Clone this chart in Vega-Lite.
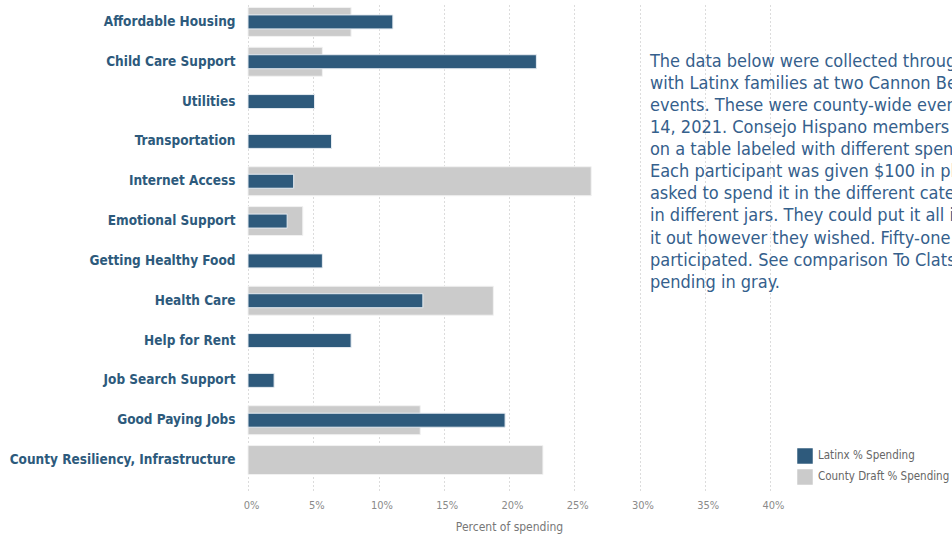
{
  "$schema": "https://vega.github.io/schema/vega-lite/v6.json",
  "autosize": {"type": "none"},
  "width": 522,
  "height": 488,
  "padding": {"left": 248, "top": 2, "right": 182, "bottom": 46},
  "background": "white",
  "config": {
    "view": {"stroke": null},
    "font": "DejaVu Sans Condensed"
  },
  "datasets": {
    "spend": [
      {"category": "Affordable Housing", "series": "County Draft % Spending", "value": 7.9},
      {"category": "Child Care Support", "series": "County Draft % Spending", "value": 5.7},
      {"category": "Internet Access", "series": "County Draft % Spending", "value": 26.3},
      {"category": "Emotional Support", "series": "County Draft % Spending", "value": 4.2},
      {"category": "Health Care", "series": "County Draft % Spending", "value": 18.8},
      {"category": "Good Paying Jobs", "series": "County Draft % Spending", "value": 13.2},
      {"category": "County Resiliency, Infrastructure", "series": "County Draft % Spending", "value": 22.6},
      {"category": "Affordable Housing", "series": "Latinx % Spending", "value": 11.1},
      {"category": "Child Care Support", "series": "Latinx % Spending", "value": 22.1},
      {"category": "Utilities", "series": "Latinx % Spending", "value": 5.1},
      {"category": "Transportation", "series": "Latinx % Spending", "value": 6.4},
      {"category": "Internet Access", "series": "Latinx % Spending", "value": 3.5},
      {"category": "Emotional Support", "series": "Latinx % Spending", "value": 3.0},
      {"category": "Getting Healthy Food", "series": "Latinx % Spending", "value": 5.7},
      {"category": "Health Care", "series": "Latinx % Spending", "value": 13.4},
      {"category": "Help for Rent", "series": "Latinx % Spending", "value": 7.9},
      {"category": "Job Search Support", "series": "Latinx % Spending", "value": 2.0},
      {"category": "Good Paying Jobs", "series": "Latinx % Spending", "value": 19.7}
    ],
    "note": [
      {"text": "The data below were collected through\nwith Latinx families at two Cannon Beach\nevents. These were county-wide events\n14, 2021.  Consejo Hispano members\non a table labeled with different spending\nEach participant was given $100 in play\nasked to spend it in the different categories\nin different jars. They could put it all in\nit out however they wished. Fifty-one people\nparticipated. See comparison To Clatsop\npending in gray."}
    ]
  },
  "layer": [
    {
      "data": {"name": "spend"},
      "transform": [{"filter": "datum.series === 'County Draft % Spending'"}],
      "mark": {"type": "bar", "size": 29, "stroke": "#f2f2f2", "strokeWidth": 1},
      "encoding": {
        "y": {"field": "category", "type": "nominal"},
        "x": {"field": "value", "type": "quantitative"},
        "color": {"field": "series", "type": "nominal"}
      }
    },
    {
      "data": {"name": "spend"},
      "transform": [{"filter": "datum.series === 'Latinx % Spending'"}],
      "mark": {"type": "bar", "size": 14, "stroke": "#e6ecf2", "strokeWidth": 1},
      "encoding": {
        "y": {"field": "category", "type": "nominal"},
        "x": {"field": "value", "type": "quantitative"},
        "color": {"field": "series", "type": "nominal"}
      }
    },
    {
      "data": {"name": "note"},
      "mark": {"type": "text", "lineBreak": "\n", "align": "left", "baseline": "alphabetic", "dy": 5, "fontSize": 18, "lineHeight": 22.1, "color": "#35608c", "font": "DejaVu Sans Condensed"},
      "encoding": {
        "x": {"datum": 30.8, "type": "quantitative"},
        "y": {"datum": "Child Care Support", "type": "nominal"},
        "text": {"field": "text", "type": "nominal"}
      }
    }
  ],
  "encoding": {
    "y": {
      "type": "nominal",
      "sort": ["Affordable Housing", "Child Care Support", "Utilities", "Transportation", "Internet Access", "Emotional Support", "Getting Healthy Food", "Health Care", "Help for Rent", "Job Search Support", "Good Paying Jobs", "County Resiliency, Infrastructure"],
      "scale": {"paddingInner": 0, "paddingOuter": 0.126, "align": 0},
      "axis": {"title": null, "domain": false, "ticks": false, "grid": false, "labelPadding": 13, "labelFont": "DejaVu Sans Condensed", "labelFontWeight": "bold", "labelFontSize": 13.5, "labelColor": "#2d5a7c", "labelLimit": 300}
    },
    "x": {
      "type": "quantitative",
      "scale": {"domain": [0, 40], "nice": false, "zero": true},
      "axis": {"title": "Percent of spending", "values": [0, 5, 10, 15, 20, 25, 30, 35, 40], "labelExpr": "datum.value + '%'", "labelFlush": false, "labelOffset": 3, "domain": false, "ticks": false, "grid": true, "gridColor": "#b8b8b8", "gridDash": [1, 3], "gridWidth": 1, "labelPadding": 9, "labelFont": "DejaVu Sans Condensed", "labelFontSize": 11, "labelColor": "#8a8a8a", "titleFont": "DejaVu Sans Condensed", "titleFontSize": 12, "titleFontWeight": "normal", "titleColor": "#777777", "titlePadding": 11}
    },
    "color": {
      "type": "nominal",
      "scale": {"domain": ["Latinx % Spending", "County Draft % Spending"], "range": ["#2e5a7c", "#cbcbcb"]},
      "legend": {"title": null, "orient": "none", "legendX": 549, "legendY": 446, "symbolType": "square", "symbolSize": 240, "symbolStrokeWidth": 0, "labelFont": "DejaVu Sans Condensed", "labelFontSize": 11.5, "labelColor": "#666666", "rowPadding": 5, "labelOffset": 5}
    }
  }
}
